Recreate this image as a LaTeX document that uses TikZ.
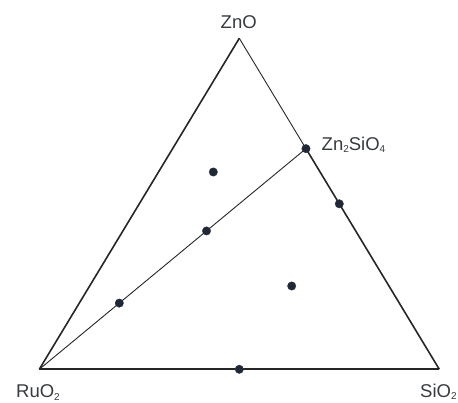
\documentclass[tikz,border=0pt]{standalone}
\usepackage{fontspec}
\setmainfont{Liberation Sans}
\usetikzlibrary{calc}
\definecolor{dotblue}{RGB}{30,40,56}
\definecolor{labelgray}{RGB}{55,58,62}
\newcommand{\lowsub}[1]{\raisebox{-2.5pt}{\fontsize{10}{10}\selectfont #1}}

\begin{document}
\begin{tikzpicture}[x=1pt, y=-1pt,
  edge/.style={line width=1.6pt, color=black!85},
  thinedge/.style={line width=0.9pt, color=black!85},
  dot/.style={circle, fill=dotblue, draw=black!80, line width=0.3pt, inner sep=0pt, minimum size=8.5pt},
  phase/.style={font=\fontsize{18.5}{20}\selectfont, text=labelgray, inner sep=0pt},
]
  \useasboundingbox (0,0) rectangle (458,403);

  % corners of the ternary
  \coordinate (zno) at (239.3,38.3);
  \coordinate (ruo) at (39.3,369.3);
  \coordinate (sio) at (439.3,369.3);
  \coordinate (zs) at ($(zno)!1/3!(sio)$);

  \draw[edge] (ruo) -- (zno);
  \draw[edge] (ruo) -- (sio);
  \draw[thinedge] (zno) -- (zs);
  \draw[edge] (zs) -- (sio);
  \draw[thinedge] (ruo) -- (zs);

  % compositions
  \node[dot] (d1) at (zs) {};
  \node[dot] (d2) at ($(zno)!0.5!(sio)$) {};
  \node[dot] (d3) at ($(ruo)!0.5!(sio)$) {};
  \node[dot] (d4) at ($(ruo)!0.3!(zs)$) {};
  \node[dot] (d5) at ($(ruo)!0.627!(zs)$) {};
  \node[dot] (d6) at (213.3,172) {};
  \node[dot] (d7) at (291.7,286) {};

  \node[phase, anchor=base] (lzno) at (238.7,28.3) {ZnO};
  \node[phase, anchor=base west] (lzs) at (321.5,150.5) {Zn\lowsub{2}SiO\lowsub{4}};
  \node[phase, anchor=base west] (lruo) at (16,398) {RuO\lowsub{2}};
  \node[phase, anchor=base west] (lsio) at (420,397) {SiO\lowsub{2}};
\end{tikzpicture}
\end{document}
